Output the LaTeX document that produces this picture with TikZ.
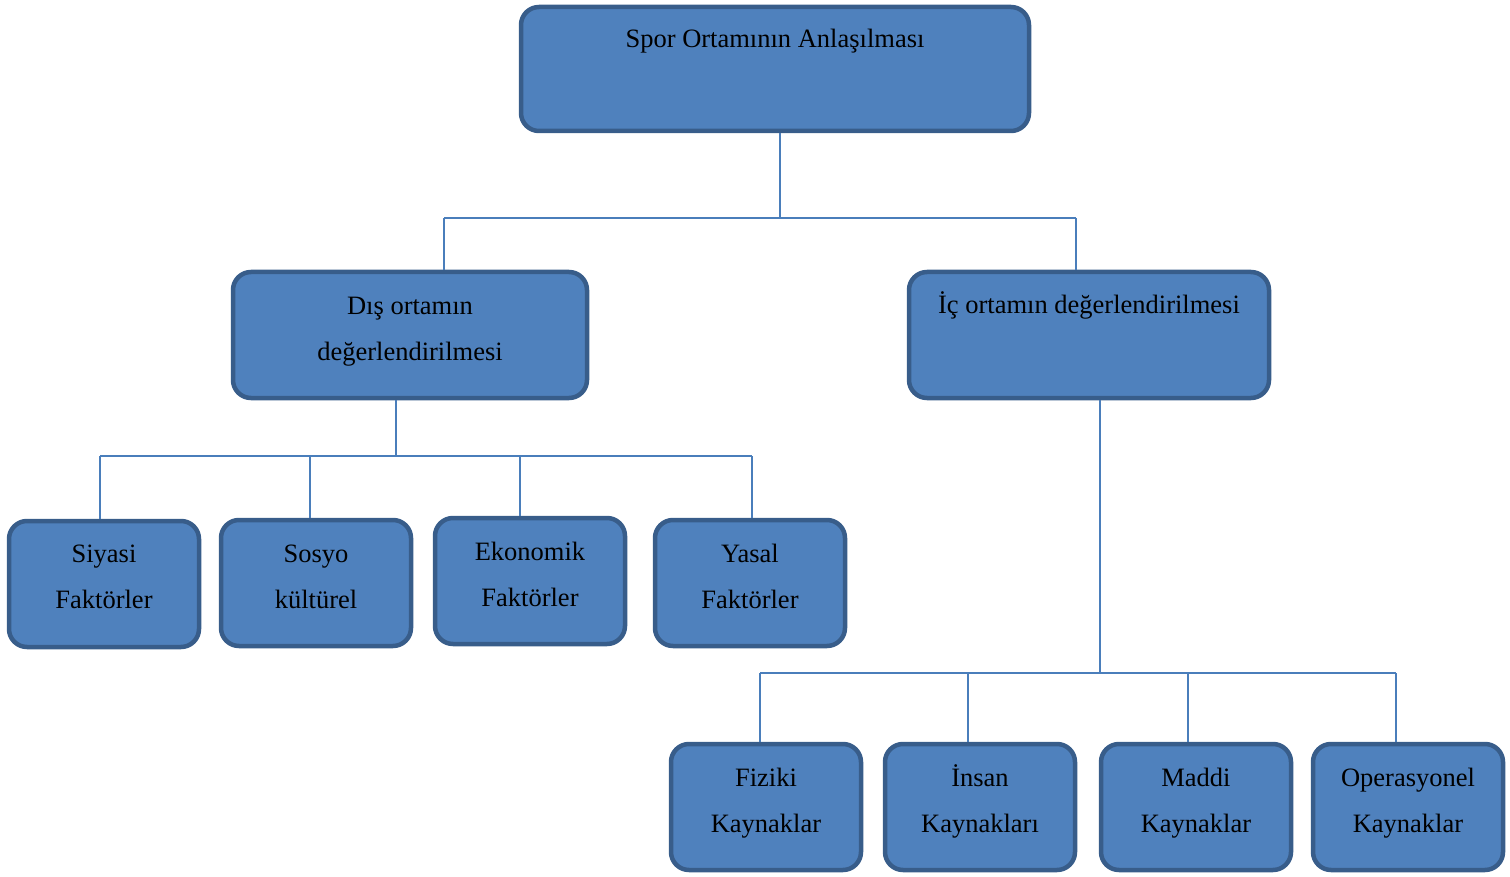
\documentclass[tikz,border=0pt]{standalone}
\usepackage{fontspec}
\setmainfont{Liberation Serif}
\definecolor{boxfill}{HTML}{4F81BD}
\definecolor{boxedge}{HTML}{385D8A}
\definecolor{linkc}{HTML}{4A7EBB}
\begin{document}
\begin{tikzpicture}[x=1pt,y=-1pt,
  box/.style={draw=boxedge, fill=boxfill, line width=4.5pt, rounded corners=18pt, inner sep=0pt},
  lbl/.style={anchor=base, align=center, inner sep=0pt, font=\fontsize{26.5}{46}\selectfont},
  link/.style={draw=linkc, line width=1.6pt}]
\useasboundingbox (0,0) rectangle (1510,877);
% boxes
\node[box, minimum width=508, minimum height=124] (top) at (775,69) {};
\node[box, minimum width=354, minimum height=126] (dis) at (410,335) {};
\node[box, minimum width=360, minimum height=126] (ic) at (1089,335) {};
\node[box, minimum width=190, minimum height=126] (siyasi) at (104,584) {};
\node[box, minimum width=190, minimum height=126] (sosyo) at (316,583) {};
\node[box, minimum width=190, minimum height=126] (ekonomik) at (530,581) {};
\node[box, minimum width=190, minimum height=126] (yasal) at (750,583) {};
\node[box, minimum width=190, minimum height=126] (fiziki) at (766,807) {};
\node[box, minimum width=190, minimum height=126] (insan) at (980,807) {};
\node[box, minimum width=190, minimum height=126] (maddi) at (1196,807) {};
\node[box, minimum width=190, minimum height=126] (operasyonel) at (1408,807) {};
% labels (base anchor = baseline of the last line)
\node[lbl] (topt) at (775,48) {Spor Ortamının Anlaşılması};
\node[lbl] (dist) at (410,360) {Dış ortamın\\değerlendirilmesi};
\node[lbl] (ict) at (1089,314) {İç ortamın değerlendirilmesi};
\node[lbl] (siyasit) at (104,608) {Siyasi\\Faktörler};
\node[lbl] (sosyot) at (316,608) {Sosyo\\kültürel};
\node[lbl] (ekonomikt) at (530,606) {Ekonomik\\Faktörler};
\node[lbl] (yasalt) at (750,608) {Yasal\\Faktörler};
\node[lbl] (fizikit) at (766,832) {Fiziki\\Kaynaklar};
\node[lbl] (insant) at (980,832) {İnsan\\Kaynakları};
\node[lbl] (madditt) at (1196,832) {Maddi\\Kaynaklar};
\node[lbl] (operasyonelt) at (1408,832) {Operasyonel\\Kaynaklar};
% connectors
\coordinate (b1) at (780,218);
\coordinate (b2) at (396,456);
\coordinate (b3) at (1100,673);
\draw[link] ([xshift=5pt]top.south) -- (b1);
\draw[link] (b1 -| 444,0) -- (b1 -| 1076,0);
\draw[link] (b1 -| 444,0) -- ([xshift=34pt]dis.north);
\draw[link] (b1 -| 1076,0) -- ([xshift=-13pt]ic.north);
\draw[link] ([xshift=-14pt]dis.south) -- (b2);
\draw[link] (b2 -| 100,0) -- (b2 -| 752,0);
\draw[link] (b2 -| 100,0) -- ([xshift=-4pt]siyasi.north);
\draw[link] (b2 -| 310,0) -- ([xshift=-6pt]sosyo.north);
\draw[link] (b2 -| 520,0) -- ([xshift=-10pt]ekonomik.north);
\draw[link] (b2 -| 752,0) -- ([xshift=2pt]yasal.north);
\draw[link] ([xshift=11pt]ic.south) -- (b3);
\draw[link] (b3 -| 760,0) -- (b3 -| 1396,0);
\draw[link] (b3 -| 760,0) -- ([xshift=-6pt]fiziki.north);
\draw[link] (b3 -| 968,0) -- ([xshift=-12pt]insan.north);
\draw[link] (b3 -| 1188,0) -- ([xshift=-8pt]maddi.north);
\draw[link] (b3 -| 1396,0) -- ([xshift=-12pt]operasyonel.north);
\end{tikzpicture}
\end{document}
